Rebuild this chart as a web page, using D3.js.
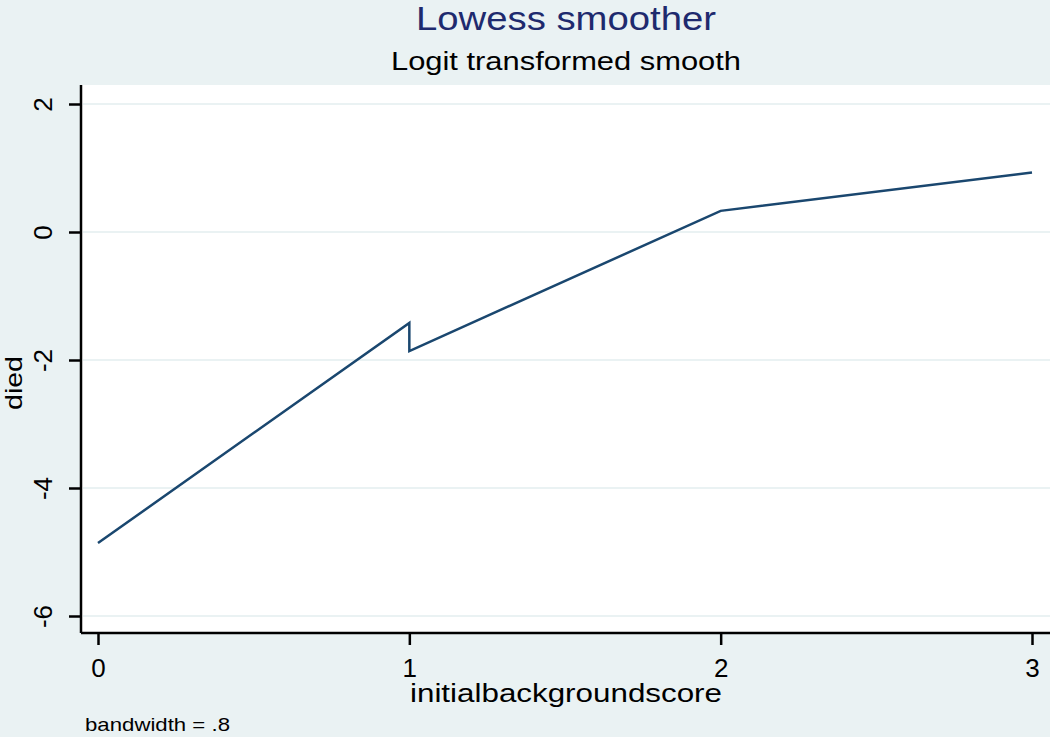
<!DOCTYPE html>
<html>
<head>
<meta charset="utf-8">
<script src="https://cdn.jsdelivr.net/npm/d3@7"></script>
<style>
  html, body { margin: 0; padding: 0; background: #eaf2f3; }
  svg { display: block; font-family: "Liberation Sans", Arial, sans-serif; }
</style>
</head>
<body>
<div id="chart"></div>
<script>
// 数据
const xValues = [0, 1, 1, 2, 3];
const yValues = [-4.86, -1.42, -1.86, 0.33, 0.93];
const xTicks = [0, 1, 2, 3];
const yTicks = [2, 0, -2, -4, -6];

const W = 1050, H = 737;
const plot = { left: 81, right: 1052, top: 85, bottom: 633 };

const svg = d3.select('#chart').append('svg')
    .attr('width', W).attr('height', H);

svg.append('rect').attr('width', W).attr('height', H).attr('fill', '#eaf2f3');

// 比例尺
const x = d3.scaleLinear().domain([0, 3]).range([98, 1032]);
const y = d3.scaleLinear().domain([0, 2]).range([232, 104]);

// 绘图区
svg.append('rect')
    .attr('x', plot.left).attr('y', plot.top)
    .attr('width', plot.right - plot.left).attr('height', plot.bottom - plot.top)
    .attr('fill', '#ffffff');

// 网格线
svg.append('g').selectAll('line').data(yTicks).join('line')
    .attr('x1', plot.left + 2).attr('x2', plot.right)
    .attr('y1', d => y(d)).attr('y2', d => y(d))
    .attr('stroke', '#eaf2f3').attr('stroke-width', 2);

// y 轴
const yAxis = svg.append('g')
    .attr('transform', `translate(${plot.left},0)`)
    .call(d3.axisLeft(y).tickValues(yTicks).tickSize(12).tickPadding(0).tickFormat(d3.format('d')));
yAxis.select('.domain').attr('d', `M0,${plot.top}V${plot.bottom}`)
    .attr('stroke', '#000').attr('stroke-width', 2.5);
yAxis.selectAll('.tick line').attr('stroke', '#000').attr('stroke-width', 2.5);
yAxis.selectAll('.tick text')
    .attr('x', null).attr('dy', null)
    .attr('transform', 'translate(-29,0) rotate(-90)')
    .attr('text-anchor', 'middle')
    .attr('font-size', 26)
    .attr('font-family', '"Liberation Sans", Arial, sans-serif')
    .attr('fill', '#000')
    .text(d => d < 0 ? '-' + Math.abs(d) : d);

// x 轴
const xAxis = svg.append('g')
    .attr('transform', `translate(0,${plot.bottom})`)
    .call(d3.axisBottom(x).tickValues(xTicks).tickSize(12).tickPadding(14).tickFormat(d3.format('d')));
xAxis.select('.domain').attr('d', `M${plot.left},0H${plot.right}`)
    .attr('stroke', '#000').attr('stroke-width', 2.5);
xAxis.selectAll('.tick line').attr('stroke', '#000').attr('stroke-width', 2.5);
xAxis.selectAll('.tick text')
    .attr('font-size', 26)
    .attr('font-family', '"Liberation Sans", Arial, sans-serif')
    .attr('fill', '#000');

// 曲线
const line = d3.line().x(d => x(d[0])).y(d => y(d[1]));
svg.append('path')
    .datum(d3.zip(xValues, yValues))
    .attr('d', line)
    .attr('fill', 'none')
    .attr('stroke', '#1a476f')
    .attr('stroke-width', 2.5);

// 标题
svg.append('text')
    .attr('x', 566).attr('y', 30)
    .attr('text-anchor', 'middle')
    .attr('font-size', 34)
    .attr('fill', '#1e2a6e')
    .attr('textLength', 300).attr('lengthAdjust', 'spacingAndGlyphs')
    .text('Lowess smoother');

svg.append('text')
    .attr('x', 566).attr('y', 70)
    .attr('text-anchor', 'middle')
    .attr('font-size', 26)
    .attr('fill', '#000')
    .attr('textLength', 350).attr('lengthAdjust', 'spacingAndGlyphs')
    .text('Logit transformed smooth');

// 轴标题
svg.append('text')
    .attr('x', 566).attr('y', 702)
    .attr('text-anchor', 'middle')
    .attr('font-size', 25)
    .attr('fill', '#000')
    .attr('textLength', 312).attr('lengthAdjust', 'spacingAndGlyphs')
    .text('initialbackgroundscore');

svg.append('text')
    .attr('transform', 'translate(22,383) rotate(-90)')
    .attr('text-anchor', 'middle')
    .attr('font-size', 24)
    .attr('fill', '#000')
    .attr('textLength', 54).attr('lengthAdjust', 'spacingAndGlyphs')
    .text('died');

// 注释
svg.append('text')
    .attr('x', 85).attr('y', 731)
    .attr('font-size', 19)
    .attr('fill', '#000')
    .attr('textLength', 145).attr('lengthAdjust', 'spacingAndGlyphs')
    .text('bandwidth = .8');
</script>
</body>
</html>
